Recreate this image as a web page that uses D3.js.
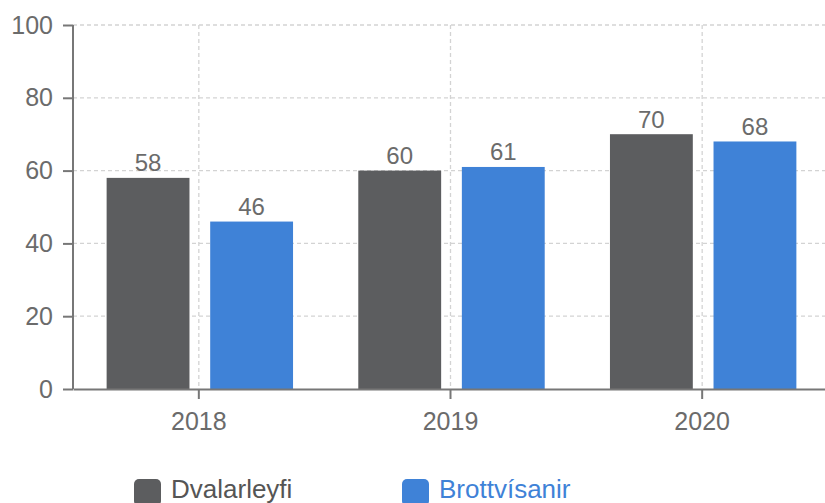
<!DOCTYPE html>
<html>
<head>
<meta charset="utf-8">
<script src="https://cdn.jsdelivr.net/npm/d3@7"></script>
<style>
  body { margin: 0; background: #fff; }
  svg { display: block; font-family: "Liberation Sans", Arial, sans-serif; }
</style>
</head>
<body>
<div id="chart"></div>
<script>
// data
var years = ["2018", "2019", "2020"];
var seriesNames = ["Dvalarleyfi", "Brottvísanir"];
var dvalarleyfi = [58, 60, 70];
var brottvisanir = [46, 61, 68];
var yTicks = [0, 20, 40, 60, 80, 100];

var colors = ["#5c5d5f", "#3f82d7"];
var legendText = ["#555555", "#3f82d7"];

(function() {
  var width = 825, height = 503;
  var left = 73, right = 828, top = 25, bottom = 389;

  var svg = d3.select("#chart").append("svg")
    .attr("width", width)
    .attr("height", height);

  var x0 = d3.scaleBand().domain(years).range([left, right]);
  var x1 = d3.scaleBand().domain(seriesNames).range([0, x0.bandwidth()])
    .paddingInner(0.2).paddingOuter(0.315);
  var y = d3.scaleLinear().domain([0, 100]).range([bottom, top]);

  // grid
  var grid = svg.append("g").attr("stroke", "#d3d3d3").attr("stroke-width", 1.3)
    .attr("stroke-dasharray", "4,3");
  grid.selectAll("line.h").data(yTicks.slice(1)).enter().append("line")
    .attr("x1", left).attr("x2", right)
    .attr("y1", function(d) { return y(d); }).attr("y2", function(d) { return y(d); });
  grid.selectAll("line.v").data(years).enter().append("line")
    .attr("x1", function(d) { return x0(d) + x0.bandwidth() / 2; })
    .attr("x2", function(d) { return x0(d) + x0.bandwidth() / 2; })
    .attr("y1", top).attr("y2", bottom);

  // bars
  var rows = years.map(function(yr, i) {
    return { year: yr, values: [dvalarleyfi[i], brottvisanir[i]] };
  });
  var groups = svg.selectAll("g.year").data(rows).enter().append("g")
    .attr("class", "year")
    .attr("transform", function(d) { return "translate(" + (x0(d.year) + 1) + ",0)"; });

  var cells = groups.selectAll("g.bar").data(function(d) {
    return d.values.map(function(v, j) { return { name: seriesNames[j], value: v, idx: j }; });
  }).enter().append("g").attr("class", "bar");

  cells.append("rect")
    .attr("x", function(d) { return x1(d.name); })
    .attr("y", function(d) { return y(d.value); })
    .attr("width", x1.bandwidth())
    .attr("height", function(d) { return bottom - y(d.value); })
    .attr("fill", function(d) { return colors[d.idx]; });

  cells.append("text")
    .attr("x", function(d) { return x1(d.name) + x1.bandwidth() / 2; })
    .attr("y", function(d) { return y(d.value) - 6.5; })
    .attr("text-anchor", "middle")
    .attr("fill", "#6b6b6b")
    .style("font-size", "24px")
    .text(function(d) { return d.value; });

  // axes
  var yAxis = svg.append("g")
    .attr("transform", "translate(" + left + ",0)")
    .call(d3.axisLeft(y).tickValues(yTicks).tickSize(10).tickPadding(10));
  var xAxis = svg.append("g")
    .attr("transform", "translate(0," + bottom + ")")
    .call(d3.axisBottom(x0).tickSize(10).tickPadding(13).tickSizeOuter(0));

  [yAxis, xAxis].forEach(function(ax) {
    ax.select(".domain").attr("stroke", "#777").attr("stroke-width", 2);
    ax.selectAll(".tick line").attr("stroke", "#777").attr("stroke-width", 2);
    ax.selectAll("text").attr("fill", "#6b6b6b").style("font-size", "25px")
      .style("font-family", "Liberation Sans, Arial, sans-serif");
  });
  yAxis.select(".domain").attr("d", "M0," + top + "V" + bottom);

  // legend
  var legendX = [134, 402];
  var legend = svg.selectAll("g.legend").data(seriesNames).enter().append("g")
    .attr("class", "legend")
    .attr("transform", function(d, i) { return "translate(" + legendX[i] + ",479)"; });
  legend.append("rect")
    .attr("width", 27).attr("height", 27).attr("rx", 5)
    .attr("fill", function(d, i) { return colors[i]; });
  legend.append("text")
    .attr("x", 37).attr("y", 19)
    .attr("fill", function(d, i) { return legendText[i]; })
    .style("font-size", "26px")
    .text(function(d) { return d; });
})();
</script>
</body>
</html>
